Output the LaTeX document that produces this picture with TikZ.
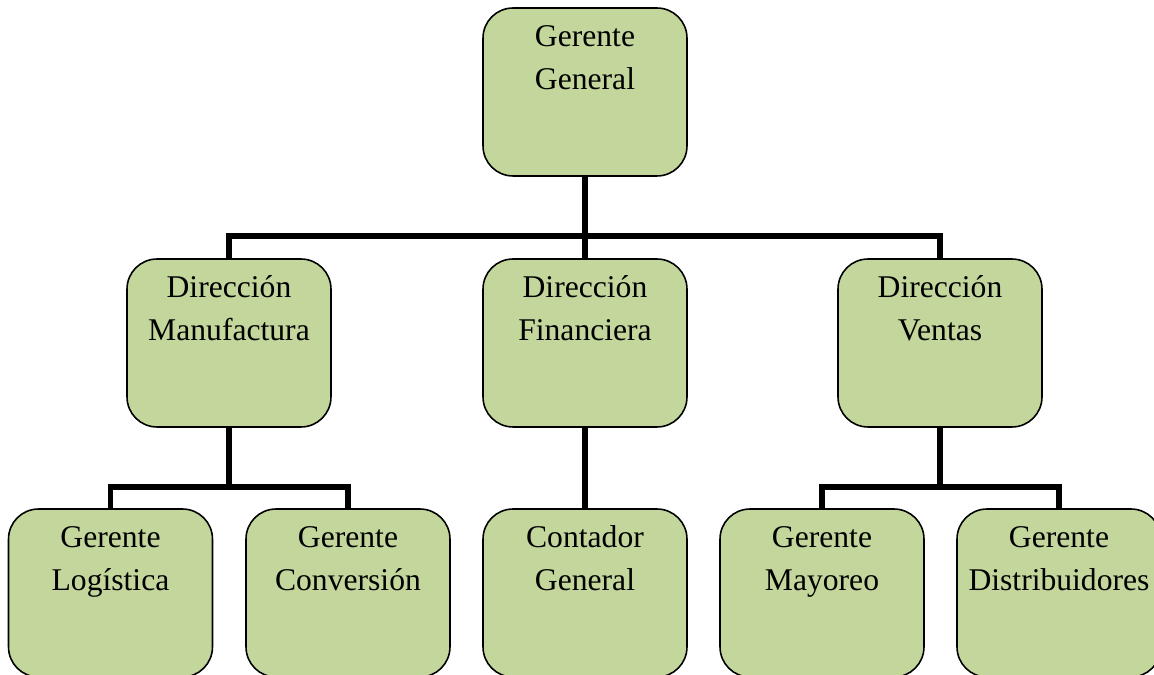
\documentclass[tikz,border=0pt]{standalone}
\usepackage{fontspec}
\setmainfont{Liberation Serif}
\usetikzlibrary{backgrounds}
\definecolor{boxgreen}{RGB}{195,214,155}
\tikzset{
  orgbox/.style={rectangle, draw=black, line width=0.9pt, fill=boxgreen,
    rounded corners=0.6cm, inner sep=0pt,
    minimum width=4.08cm, minimum height=3.36cm},
  link/.style={draw=black, line width=3.4pt, line join=miter},
}
% two centred lines, hung from the top of the box
\newcommand{\boxtext}[2]{\parbox[c][3.36cm][t]{4.08cm}{\centering
  \fontsize{18}{25}\selectfont\rule{0pt}{0.76cm}#1\\#2}}
\begin{document}
\begin{tikzpicture}[x=0.02cm, y=-0.02cm]
  \clip (0,0) rectangle (1154,675);
  % boxes
  \node[orgbox] (gg) at (585,92)  {\boxtext{Gerente}{General}};
  \node[orgbox] (dm) at (229,343) {\boxtext{Dirección}{Manufactura}};
  \node[orgbox] (df) at (585,343) {\boxtext{Dirección}{Financiera}};
  \node[orgbox] (dv) at (940,343) {\boxtext{Dirección}{Ventas}};
  \node[orgbox] (gl) at (110.5,593) {\boxtext{Gerente}{Logística}};
  \node[orgbox] (gc) at (348,593)   {\boxtext{Gerente}{Conversión}};
  \node[orgbox] (cg) at (585,593)   {\boxtext{Contador}{General}};
  \node[orgbox] (gm) at (822,593)   {\boxtext{Gerente}{Mayoreo}};
  \node[orgbox] (gd) at (1059,593)  {\boxtext{Gerente}{Distribuidores}};
  % bus junctions
  \coordinate (b1) at (585,236);
  \coordinate (b2) at (229,487);
  \coordinate (b3) at (940,487);
  \begin{pgfonlayer}{background}
    \draw[link] (gg.south) -- (b1);
    \draw[link] (dm.north) |- (b1) -| (dv.north);
    \draw[link] (b1) -- (df.north);
    \draw[link] (dm.south) -- (b2);
    \draw[link] (gl.north) |- (b2) -| (gc.north);
    \draw[link] (df.south) -- (cg.north);
    \draw[link] (dv.south) -- (b3);
    \draw[link] (gm.north) |- (b3) -| (gd.north);
  \end{pgfonlayer}
\end{tikzpicture}
\end{document}
